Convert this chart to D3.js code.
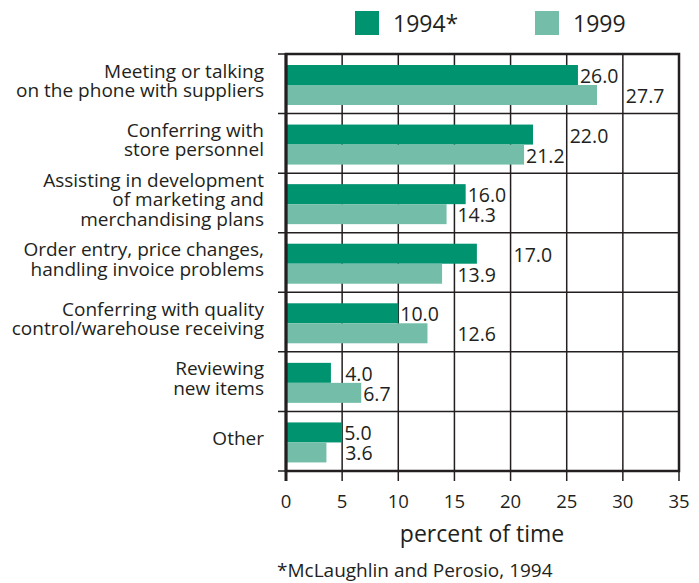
<!DOCTYPE html>
<html>
<head>
<meta charset="utf-8">
<script src="https://cdn.jsdelivr.net/npm/d3@7"></script>
<style>
  body { margin: 0; background: #fff; }
  text { font-family: "Open Sans", sans-serif; fill: #231f20; }
</style>
</head>
<body>
<svg id="chart" width="699" height="583"></svg>
<script>
// data
var categories = [
  ["Meeting or talking", "on the phone with suppliers"],
  ["Conferring with", "store personnel"],
  ["Assisting in development", "of marketing and", "merchandising plans"],
  ["Order entry, price changes,", "handling invoice problems"],
  ["Conferring with quality", "control/warehouse receiving"],
  ["Reviewing", "new items"],
  ["Other"]
];
var seriesNames = ["1994*", "1999"];
var values1994 = [26.0, 22.0, 16.0, 17.0, 10.0, 4.0, 5.0];
var values1999 = [27.7, 21.2, 14.3, 13.9, 12.6, 6.7, 3.6];
var xTicks = [0, 5, 10, 15, 20, 25, 30, 35];
var xTitle = "percent of time";
var footnote = "*McLaughlin and Perosio, 1994";

var colors = ["#00936f", "#74bea9"];

var svg = d3.select("#chart"),
    pLeft = 286, pRight = 679, pTop = 54, pBottom = 471;

var keys = categories.map(function (d) { return d.join(" "); });

var x = d3.scaleLinear().domain([0, 35]).range([pLeft, pRight]);
var y = d3.scaleBand().domain(keys).range([pTop, pBottom]);
var ySub = d3.scaleBand().domain(seriesNames).range([11, 51]);

var rows = keys.map(function (k, i) {
  return { key: k, lines: categories[i], vals: [values1994[i], values1999[i]] };
});

// grid
var grid = svg.append("g").attr("stroke", "#231f20").attr("stroke-width", 1.5);
grid.selectAll("line.v").data(xTicks.slice(1, -1)).enter().append("line")
  .attr("x1", function (d) { return x(d); }).attr("x2", function (d) { return x(d); })
  .attr("y1", pTop).attr("y2", pBottom);
var bounds = keys.map(function (k) { return y(k); }).concat([pBottom]);
grid.selectAll("line.h").data(bounds).enter().append("line")
  .attr("x1", pLeft - 8).attr("x2", pRight)
  .attr("y1", function (d) { return d; }).attr("y2", function (d) { return d; });
grid.selectAll("line.t").data(xTicks).enter().append("line")
  .attr("x1", function (d) { return x(d); }).attr("x2", function (d) { return x(d); })
  .attr("y1", pBottom).attr("y2", pBottom + 10);

// bars
var row = svg.selectAll("g.row").data(rows).enter().append("g")
  .attr("class", "row")
  .attr("transform", function (d) { return "translate(0," + y(d.key) + ")"; });

row.selectAll("rect").data(function (d) { return d.vals; }).enter().append("rect")
  .attr("x", x(0))
  .attr("y", function (d, i) { return ySub(seriesNames[i]); })
  .attr("width", function (d) { return x(d) - x(0); })
  .attr("height", ySub.bandwidth())
  .attr("fill", function (d, i) { return colors[i]; });

// frame
svg.append("rect").attr("x", pLeft).attr("y", pTop)
  .attr("width", pRight - pLeft).attr("height", pBottom - pTop)
  .attr("fill", "none").attr("stroke", "#231f20").attr("stroke-width", 2.5);
svg.append("line").attr("x1", pLeft).attr("x2", pLeft).attr("y1", pTop - 1).attr("y2", pBottom + 10)
  .attr("stroke", "#231f20").attr("stroke-width", 3);

// value labels: after the bar, or past the next gridline if the text would hit it
row.selectAll("text.val").data(function (d) { return d.vals; }).enter().append("text")
  .attr("class", "val")
  .style("font-size", "19.5px")
  .attr("y", function (d, i) { return ySub(seriesNames[i]) + ySub.bandwidth() - 2; })
  .text(function (d) { return d.toFixed(1); })
  .attr("x", function (d) {
    var end = x(d) + 2, w = this.getComputedTextLength();
    var next = Math.ceil(d / 5 - 1e-9) * 5;
    if (next > d && end + w > x(next)) return x(next) + 3;
    return end;
  });

// category labels
row.append("text")
  .attr("text-anchor", "end")
  .style("font-size", "19px")
  .each(function (d) {
    var n = d.lines.length, t = d3.select(this);
    d.lines.forEach(function (l, j) {
      t.append("tspan").attr("x", 264)
        .attr("y", y.bandwidth() / 2 + (j - (n - 1) / 2) * 19.3 + 3.5)
        .text(l);
    });
  });

// x tick labels
svg.selectAll("text.tick").data(xTicks).enter().append("text")
  .attr("class", "tick")
  .attr("x", function (d) { return x(d); }).attr("y", 508)
  .attr("text-anchor", "middle").style("font-size", "18.5px")
  .text(function (d) { return d; });

svg.append("text").attr("x", 482).attr("y", 542)
  .attr("text-anchor", "middle").style("font-size", "23px").text(xTitle);

svg.append("text").attr("x", 277).attr("y", 577)
  .style("font-size", "19px").text(footnote);

// legend
var legX = [355, 535];
var leg = svg.selectAll("g.legend").data(seriesNames).enter().append("g")
  .attr("class", "legend")
  .attr("transform", function (d, i) { return "translate(" + legX[i] + ",11)"; });
leg.append("rect").attr("width", 24).attr("height", 24)
  .attr("fill", function (d, i) { return colors[i]; });
leg.append("text").attr("x", 38).attr("y", 21).style("font-size", "23px")
  .text(function (d) { return d; });
</script>
</body>
</html>
